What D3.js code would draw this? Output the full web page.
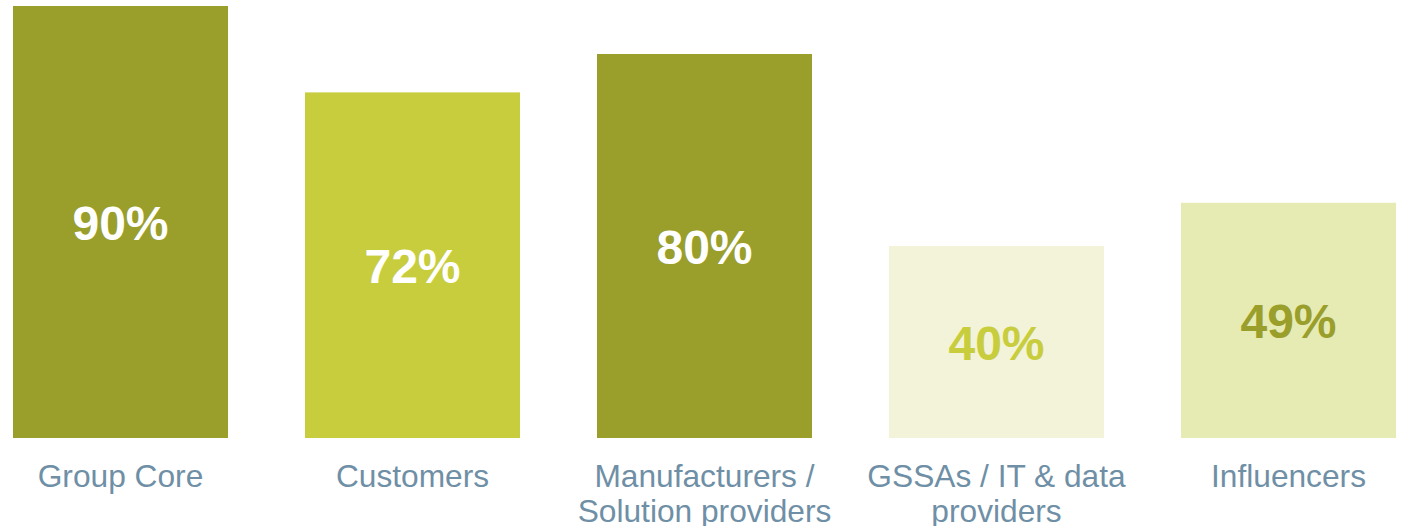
<!DOCTYPE html>
<html>
<head>
<meta charset="utf-8">
<script src="https://cdn.jsdelivr.net/npm/d3@7"></script>
<style>
  html, body { margin: 0; padding: 0; background: #ffffff; }
  svg { display: block; }
</style>
</head>
<body>
<svg id="chart" width="1402" height="526"></svg>
<script>
// Share of respondents per stakeholder group
const categories = [
  ["Group Core"],
  ["Customers"],
  ["Manufacturers /", "Solution providers"],
  ["GSSAs / IT & data", "providers"],
  ["Influencers"]
];
const values = [90, 72, 80, 40, 49];
const barColors = ["#9a9e2b", "#c8cd3d", "#9a9e2b", "#f2f3d9", "#e6eab3"];
const labelColors = ["#ffffff", "#ffffff", "#ffffff", "#c8cd3d", "#9a9e2b"];

const svg = d3.select("#chart");

// band step 292, bar width 215
const gap = 77, step = 292;
const xb = d3.scaleBand()
  .domain(d3.range(values.length))
  .range([13 - gap / 2, 1396 + gap / 2])
  .paddingInner(gap / step)
  .paddingOuter(gap / step / 2);

const y = d3.scaleLinear().domain([0, 90]).range([438, 6]);

const g = svg.append("g");

g.selectAll("rect.bar")
  .data(values)
  .join("rect")
  .attr("class", "bar")
  .attr("x", (d, i) => xb(i))
  .attr("width", xb.bandwidth())
  .attr("y", d => y(d))
  .attr("height", d => y(0) - y(d))
  .attr("fill", (d, i) => barColors[i]);

// value labels, centred in each bar
g.selectAll("text.value")
  .data(values)
  .join("text")
  .attr("class", "value")
  .attr("x", (d, i) => xb(i) + xb.bandwidth() / 2)
  .attr("y", d => (y(d) + y(0)) / 2 + 18)
  .attr("text-anchor", "middle")
  .attr("font-family", "'Liberation Sans', Arial, sans-serif")
  .attr("font-weight", "bold")
  .attr("font-size", 48)
  .attr("fill", (d, i) => labelColors[i])
  .text(d => d + "%");

// category labels under the bars
const cat = g.selectAll("text.cat")
  .data(categories)
  .join("text")
  .attr("class", "cat")
  .attr("x", (d, i) => xb(i) + xb.bandwidth() / 2)
  .attr("y", 487)
  .attr("text-anchor", "middle")
  .attr("font-family", "'Liberation Sans', Arial, sans-serif")
  .attr("font-size", 31.7)
  .attr("fill", "#6f8fa6");

cat.selectAll("tspan")
  .data((d, i) => d.map(t => ({ t, i })))
  .join("tspan")
  .attr("x", d => xb(d.i) + xb.bandwidth() / 2)
  .attr("dy", (d, j) => j === 0 ? 0 : 34.5)
  .text(d => d.t);
</script>
</body>
</html>
